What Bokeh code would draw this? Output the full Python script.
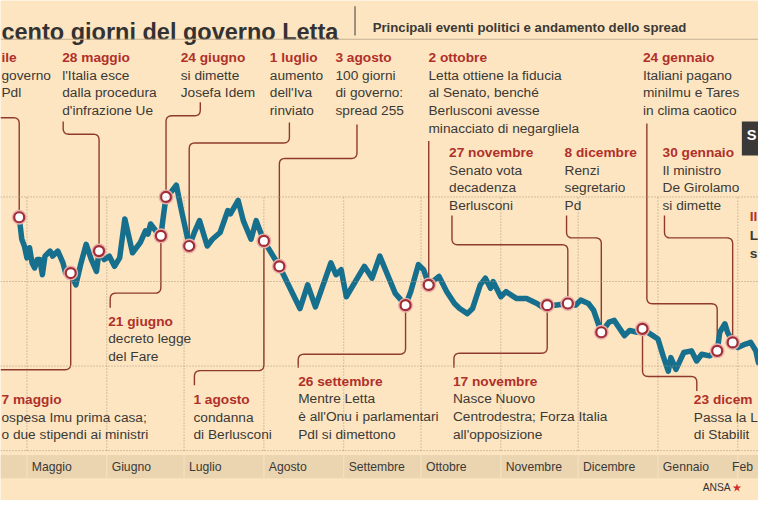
import numpy as np
from datetime import datetime
from bokeh.plotting import figure
from bokeh.models import Range1d, Span
from bokeh.embed import file_html
from bokeh.resources import INLINE
from bokeh.core.properties import value

# ---------------- data ----------------
dates = ["2013-04-28", "2013-04-29", "2013-04-30", "2013-05-01", "2013-05-02", "2013-05-03", "2013-05-04",
         "2013-05-05", "2013-05-06", "2013-05-07", "2013-05-08", "2013-05-10", "2013-05-11", "2013-05-13",
         "2013-05-15", "2013-05-16", "2013-05-18", "2013-05-20", "2013-05-22", "2013-05-24", "2013-05-26",
         "2013-05-28", "2013-05-29", "2013-05-31", "2013-06-02", "2013-06-04", "2013-06-06", "2013-06-08",
         "2013-06-11", "2013-06-14", "2013-06-16", "2013-06-17", "2013-06-18", "2013-06-20", "2013-06-22",
         "2013-06-23", "2013-06-24", "2013-06-26", "2013-06-28", "2013-06-30", "2013-07-03", "2013-07-05",
         "2013-07-07", "2013-07-10", "2013-07-12", "2013-07-15", "2013-07-18", "2013-07-19", "2013-07-22",
         "2013-07-24", "2013-07-27", "2013-07-29", "2013-08-01", "2013-08-07", "2013-08-15", "2013-08-18",
         "2013-08-21", "2013-08-27", "2013-08-29", "2013-08-31", "2013-09-02", "2013-09-09", "2013-09-12",
         "2013-09-15", "2013-09-21", "2013-09-25", "2013-09-27", "2013-09-30", "2013-10-02", "2013-10-04",
         "2013-10-08", "2013-10-11", "2013-10-14", "2013-10-16", "2013-10-19", "2013-10-21", "2013-10-24",
         "2013-10-26", "2013-10-28", "2013-10-29", "2013-11-01", "2013-11-03", "2013-11-07", "2013-11-11",
         "2013-11-15", "2013-11-17", "2013-11-19", "2013-11-22", "2013-11-27", "2013-11-30", "2013-12-02",
         "2013-12-05", "2013-12-07", "2013-12-10", "2013-12-13", "2013-12-15", "2013-12-19", "2013-12-21",
         "2013-12-24", "2013-12-26", "2013-12-30", "2014-01-01", "2014-01-03", "2014-01-05", "2014-01-06",
         "2014-01-08", "2014-01-11", "2014-01-14", "2014-01-16", "2014-01-18", "2014-01-21", "2014-01-24",
         "2014-01-25", "2014-01-27", "2014-01-28", "2014-01-30", "2014-02-01", "2014-02-04", "2014-02-06",
         "2014-02-08", "2014-02-09"]
spread = [288, 275, 271, 264, 270, 261, 258,
          263, 263, 254, 265, 268, 265, 268,
          261, 255, 255, 248, 261, 272, 263,
          256, 268, 263, 265, 259, 264, 287,
          267, 273, 280, 278, 284, 280, 277,
          289, 300, 303, 307, 292, 271, 279,
          286, 271, 275, 279, 292, 290, 298,
          286, 275, 286, 274, 259, 234, 248,
          235, 261, 254, 257, 241, 259, 252,
          265, 243, 236, 244, 260, 257, 248,
          253, 244, 237, 234, 231, 234, 248,
          252, 246, 250, 241, 244, 240, 240,
          237, 235, 236, 236, 237, 236, 239,
          237, 233, 220, 226, 227, 218, 221,
          220, 222, 218, 216, 206, 197, 205,
          198, 208, 209, 203, 207, 206, 209,
          220, 225, 220, 214, 211, 213, 214,
          209, 202]

# dates where the chart places its event markers
marker_dates = ["2013-04-28", "2013-05-18", "2013-05-29", "2013-06-22", "2013-06-24", "2013-07-03",
                "2013-08-01", "2013-08-07", "2013-09-25", "2013-10-04", "2013-11-19", "2013-11-27",
                "2013-12-10", "2013-12-26", "2014-01-24", "2014-01-30"]

event_heads = ["ile", "7 maggio", "28 maggio", "21 giugno", "24 giugno", "1 luglio",
               "1 agosto", "3 agosto", "26 settembre", "2 ottobre", "17 novembre", "27 novembre",
               "8 dicembre", "23 dicem", "24 gennaio", "30 gennaio"]
event_texts = [["governo", "Pdl"],
               ["ospesa Imu prima casa;", "o due stipendi ai ministri"],
               ["l'Italia esce", "dalla procedura", "d'infrazione Ue"],
               ["decreto legge", "del Fare"],
               ["si dimette", "Josefa Idem"],
               ["aumento", "dell'Iva", "rinviato"],
               ["condanna", "di Berlusconi"],
               ["100 giorni", "di governo:", "spread 255"],
               ["Mentre Letta", "è all'Onu i parlamentari", "Pdl si dimettono"],
               ["Letta ottiene la fiducia", "al Senato, benché", "Berlusconi avesse", "minacciato di negargliela"],
               ["Nasce Nuovo", "Centrodestra; Forza Italia", "all'opposizione"],
               ["Senato vota", "decadenza", "Berlusconi"],
               ["Renzi", "segretario", "Pd"],
               ["Passa la L", "di Stabilit"],
               ["Italiani pagano", "miniImu e Tares", "in clima caotico"],
               ["Il ministro", "De Girolamo", "si dimette"]]

month_names = ["Maggio", "Giugno", "Luglio", "Agosto", "Settembre", "Ottobre", "Novembre",
               "Dicembre", "Gennaio", "Feb"]
month_starts = ["2013-05-01", "2013-06-01", "2013-07-01", "2013-08-01", "2013-09-01", "2013-10-01",
                "2013-11-01", "2013-12-01", "2014-01-01", "2014-02-01"]
grid_values = [150, 200, 250, 300]

title = "cento giorni del governo Letta"
subtitle = "Principali eventi politici e andamento dello spread"
edge_texts = ["Il", "L", "s"]

# ---------------- layout (reference-picture pixels, 774 x 516) ----------------
W, H = 758, 500
REF_W, REF_H = 774, 516
EPOCH = datetime(1970, 1, 1)
DAY = 86400000.0
ORIGIN = datetime(2013, 5, 1)
ORIGIN_PX = 27.0
PX_PER_DAY = 2.63
REF_VAL, REF_PX = 250.0, 290.0
PX_PER_BP = 1.745
K = W / REF_W  # font scale


def ms(s):
    d = datetime.fromisoformat(s) if isinstance(s, str) else s
    return (d - EPOCH).total_seconds() * 1000.0


ORIGIN_MS = ms(ORIGIN)


def x_of_px(X):
    return ORIGIN_MS + (X - ORIGIN_PX) / PX_PER_DAY * DAY


def y_of_px(Y):
    return REF_VAL + (REF_PX - Y) / PX_PER_BP


def px_of_x(x):
    return ORIGIN_PX + (x - ORIGIN_MS) / DAY * PX_PER_DAY


def px_of_y(v):
    return REF_PX - (v - REF_VAL) * PX_PER_BP


def fs(px):
    return "%.1fpx" % (px * K)


BG = "#fde5c1"
BAND = "#ebd4b0"
LINE = "#176f8e"
RED = "#b0302a"
CONN = "#8f3a2e"
TXT = "#3b3936"
GRID = "#a8977d"
FONT = "Liberation Sans"

x_start, x_end = x_of_px(0), x_of_px(REF_W)
y_bot, y_top = y_of_px(REF_H), y_of_px(0)

p = figure(width=W, height=H, x_range=Range1d(x_start, x_end), y_range=Range1d(y_bot, y_top),
           output_backend="svg", toolbar_location=None, min_border=0,
           x_axis_location=None, y_axis_location=None)
p.grid.visible = False
p.outline_line_color = None
p.background_fill_color = BG
p.border_fill_color = BG

dates_ms = [ms(d) for d in dates]
months_ms = [ms(m) for m in month_starts]

# grid
for v in grid_values:
    p.add_layout(Span(location=v, dimension="width", line_color=GRID, line_dash="1 2", line_width=1))
p.segment(x0=months_ms, y0=[min(grid_values)] * len(months_ms), x1=months_ms,
          y1=[max(grid_values)] * len(months_ms), line_color=GRID, line_dash="1 2", line_width=1)

# month band
band_top, band_bot = y_of_px(469), y_of_px(493)
p.quad(left=[x_start], right=[x_end], top=[band_top], bottom=[band_bot], fill_color=BAND, line_color=None)
p.segment(x0=months_ms, y0=[band_bot] * len(months_ms), x1=months_ms, y1=[band_top] * len(months_ms),
          line_color="#f6e2c3", line_width=1)
month_x = [x_of_px(min(px_of_x(m) + 5, REF_W - 27)) for m in months_ms]
p.text(x=month_x, y=[y_of_px(481)] * len(months_ms), text=month_names,
       text_font=value(FONT), text_font_size=fs(12.5), text_color=TXT, text_baseline="middle", text_align="left")

# header
p.add_layout(Span(location=y_of_px(40), dimension="width", line_color="#c4b193", line_width=1))
p.segment(x0=[x_of_px(362)], y0=[y_of_px(6)], x1=[x_of_px(362)], y1=[y_of_px(36)], line_color="#5a5652",
          line_width=1.2)
p.text(x=[x_of_px(1)], y=[y_of_px(32)], text=[title], text_font=value(FONT), text_font_style="bold",
       text_font_size=fs(24), text_color="#333132", text_baseline="alphabetic", text_align="left")
p.text(x=[x_of_px(380)], y=[y_of_px(28)], text=[subtitle], text_font=value(FONT), text_font_style="bold",
       text_font_size=fs(13.5), text_color=TXT, text_baseline="alphabetic", text_align="left")

# markers on series
m_ms = [ms(d) for d in marker_dates]
m_val = list(np.interp(m_ms, dates_ms, spread))
m_px = [(px_of_x(x), px_of_y(v)) for x, v in zip(m_ms, m_val)]

# label block positions (ref px: left x, first line centre y) and connector waypoints
label_pos = [(1, 59), (1, 412), (63, 59), (110, 331), (184, 59), (275, 59),
             (197, 412), (342, 59), (304, 393), (437, 59), (462, 393), (458, 157),
             (576, 157), (708, 412), (656, 59), (676, 157)]
M = "M"
paths = [
    [(0, 121), (None, 121), M],
    [M, (None, 381), (0, 381)],
    [(64, 125), (64, 138), (None, 138), M],
    [M, (None, 302), (112, 302), (112, 317)],
    [(204, 105), (204, 119), (None, 119), M],
    [(295, 126), (295, 147), (None, 147), M],
    [M, (None, 382), (198, 382), (198, 397)],
    [(364, 128), (364, 163), (None, 163), M],
    [M, (None, 365), (304, 365), (304, 379)],
    [(None, 145), M],
    [M, (None, 364), (463, 364), (463, 379)],
    [(461, 222), (461, 252), (None, 252), M],
    [(578, 222), (578, 245), (None, 245), M],
    [M, (None, 388), (711, 388), (711, 403)],
    [(660, 127), (660, 313), (None, 313), M],
    [(678, 222), (678, 245), (None, 245), M],
]


def rounded(pts, r=6.0, n=7):
    out = [pts[0]]
    for i in range(1, len(pts) - 1):
        a0, a1, a2 = (np.array(pts[i - 1], float), np.array(pts[i], float), np.array(pts[i + 1], float))
        v1, v2 = a0 - a1, a2 - a1
        l1, l2 = np.linalg.norm(v1), np.linalg.norm(v2)
        rr = min(r, l1 / 2, l2 / 2)
        s, e = a1 + v1 / l1 * rr, a1 + v2 / l2 * rr
        for t in np.linspace(0, 1, n):
            q = (1 - t) ** 2 * s + 2 * (1 - t) * t * a1 + t ** 2 * e
            out.append((q[0], q[1]))
    out.append(pts[-1])
    return out


cx, cy = [], []
for (mx, my), path in zip(m_px, paths):
    pts = []
    for q in path:
        if q == M:
            pts.append((mx, my))
        else:
            pts.append((mx if q[0] is None else q[0], my if q[1] is None else q[1]))
    rp = rounded(pts)
    cx.append([x_of_px(a) for a, b in rp])
    cy.append([y_of_px(b) for a, b in rp])
p.multi_line(xs=cx, ys=cy, line_color=CONN, line_width=1.4)

# spread line
p.line(x=dates_ms, y=spread, line_color=LINE, line_width=5.5, line_join="round", line_cap="round")

# markers
p.scatter(x=m_ms, y=m_val, size=15, fill_color="#e9b0aa", line_color=None)
p.scatter(x=m_ms, y=m_val, size=10, fill_color="white", line_color="#a12d36", line_width=2.2)

# event texts
hx, hy, ht, bx, by, bt = [], [], [], [], [], []
LS = 18.2
for (lx, ly), head, body in zip(label_pos, event_heads, event_texts):
    hx.append(x_of_px(lx)); hy.append(y_of_px(ly)); ht.append(head)
    for i, line in enumerate(body):
        bx.append(x_of_px(lx)); by.append(y_of_px(ly + (i + 1) * LS)); bt.append(line)
p.text(x=hx, y=hy, text=ht, text_font=value(FONT), text_font_style="bold", text_font_size=fs(14),
       text_color=RED, text_baseline="middle", text_align="left")
p.text(x=bx, y=by, text=bt, text_font=value(FONT), text_font_size=fs(14),
       text_color=TXT, text_baseline="middle", text_align="left")

# partial texts at the right edge
p.text(x=[x_of_px(765)], y=[y_of_px(223)], text=[edge_texts[0]], text_font=value(FONT), text_font_style="bold",
       text_font_size=fs(14), text_color=RED, text_baseline="middle", text_align="left")
p.text(x=[x_of_px(765)] * 2, y=[y_of_px(243), y_of_px(261)], text=edge_texts[1:], text_font=value(FONT),
       text_font_style="bold", text_font_size=fs(14), text_color=TXT, text_baseline="middle", text_align="left")

# dark box at the right edge
p.quad(left=[x_of_px(757)], right=[x_of_px(790)], top=[y_of_px(125)], bottom=[y_of_px(160)],
       fill_color="#3a3938", line_color=None)
p.text(x=[x_of_px(762)], y=[y_of_px(139)], text=["S"], text_font=value(FONT), text_font_style="bold",
       text_font_size=fs(15), text_color="white", text_baseline="middle", text_align="left")

# credit
p.text(x=[x_of_px(717)], y=[y_of_px(503)], text=["ANSA"], text_font=value(FONT), text_font_size=fs(10.5),
       text_color="#333", text_baseline="middle", text_align="left")
p.scatter(x=[x_of_px(752)], y=[y_of_px(503)], marker="star", size=9, fill_color="#d42a2a", line_color=None)

open("out.html", "w").write(file_html(p, INLINE))
